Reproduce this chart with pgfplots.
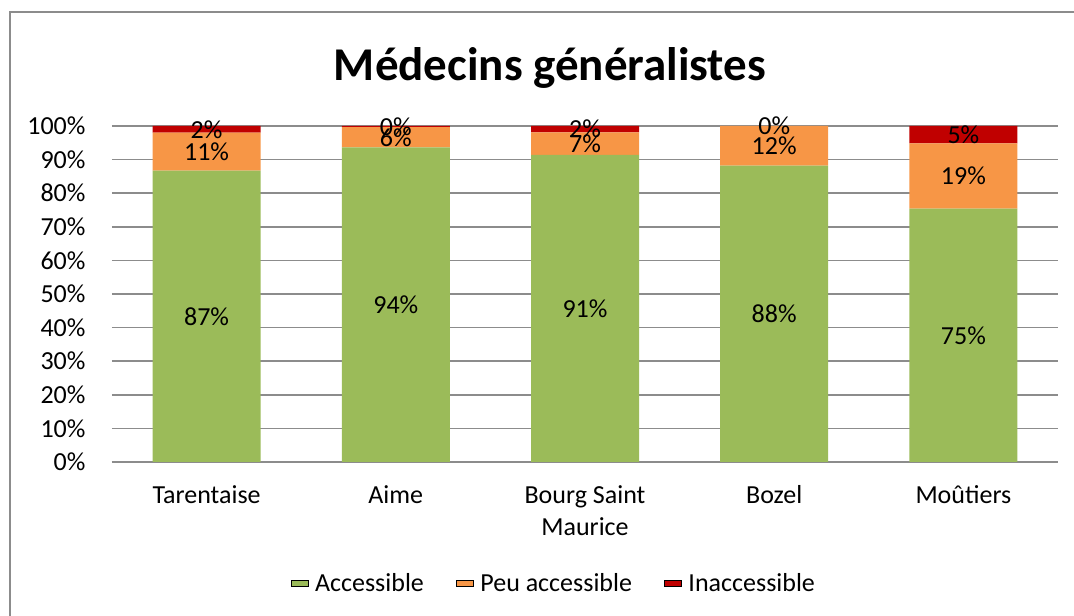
\documentclass[border=0pt]{standalone}
\usepackage{fontspec}
\setmainfont{Carlito}
\usepackage{pgfplots}
\pgfplotsset{compat=1.18}
\definecolor{cgreen}{HTML}{9BBB59}
\definecolor{corange}{HTML}{F79646}
\definecolor{cred}{HTML}{C00000}
\definecolor{cgrid}{HTML}{8C8C8C}
\begin{document}
\begin{tikzpicture}[x=1pt,y=1pt]
\useasboundingbox (0,0) rectangle (1074,616);
\draw[cgrid,line width=2pt] (10,0) -- (10,603.5) -- (1074,603.5);
\node[font=\fontsize{47}{56}\selectfont\bfseries] at (550,548) {Médecins généralistes};
\begin{axis}[
  at={(112pt,154pt)}, anchor=south west,
  scale only axis, width=946pt, height=336pt,
  ybar stacked, bar width=108pt,
  xmin=-0.5, xmax=4.5, ymin=0, ymax=100,
  xtick={0,1,2,3,4},
  xticklabels={Tarentaise,Aime,{Bourg Saint\\Maurice},Bozel,Moûtiers},
  ytick={0,10,...,100},
  yticklabel={\pgfmathprintnumber{\tick}\%},
  /pgf/number format/assume math mode=true,
  major tick length=0pt,
  axis x line*=bottom, axis y line*=left,
  x axis line style={cgrid,line width=1.5pt,-},
  y axis line style={draw=none},
  ymajorgrids, grid style={cgrid,line width=1.5pt},
  xticklabel style={font=\fontsize{26}{32}\selectfont, align=center, anchor=north, yshift=-20pt},
  yticklabel style={font=\fontsize{26}{32}\selectfont, anchor=east, xshift=-23pt},
  legend style={at={(0.467,-0.36)}, anchor=center, draw=none, legend columns=-1,
    font=\fontsize{26}{32}\selectfont,
    /tikz/every odd column/.append style={column sep=5pt},
    /tikz/every even column/.append style={column sep=30pt}},
  legend image code/.code={\fill[#1] (0pt,-6pt) rectangle (13pt,7pt);},
  area legend,
]
\addplot[fill=cgreen, draw=none] coordinates {(0,86.7) (1,93.6) (2,91.4) (3,88.2) (4,75.4)};
\addplot[fill=corange, draw=none] coordinates {(0,11.3) (1,6.1) (2,6.7) (3,11.8) (4,19.4)};
\addplot[fill=cred, draw=none] coordinates {(0,2.0) (1,0.3) (2,1.9) (3,0.0) (4,5.2)};
\legend{Accessible,Peu accessible,Inaccessible}
\end{axis}
\begin{axis}[
  at={(112pt,154pt)}, anchor=south west,
  scale only axis, width=946pt, height=336pt,
  xmin=-0.5, xmax=4.5, ymin=0, ymax=100,
  hide axis, clip=false,
  /pgf/number format/assume math mode=true,
]
\addplot[only marks, mark=none, point meta=explicit,
  nodes near coords={\pgfmathprintnumber[assume math mode=true]{\pgfplotspointmeta}\%},
  nodes near coords align={center},
  every node near coord/.append style={anchor=center, inner sep=0pt, font=\fontsize{26}{32}\selectfont}]
  table[x=x, y=y, meta=lab] {
x y lab
0 43.35 87
0 92.35 11
0 99.0 2
1 46.8 94
1 96.65 6
1 99.85 0
2 45.7 91
2 94.75 7
2 99.05 2
3 44.1 88
3 94.1 12
3 100 0
4 37.7 75
4 85.1 19
4 97.4 5
};
\end{axis}
\end{tikzpicture}
\end{document}
